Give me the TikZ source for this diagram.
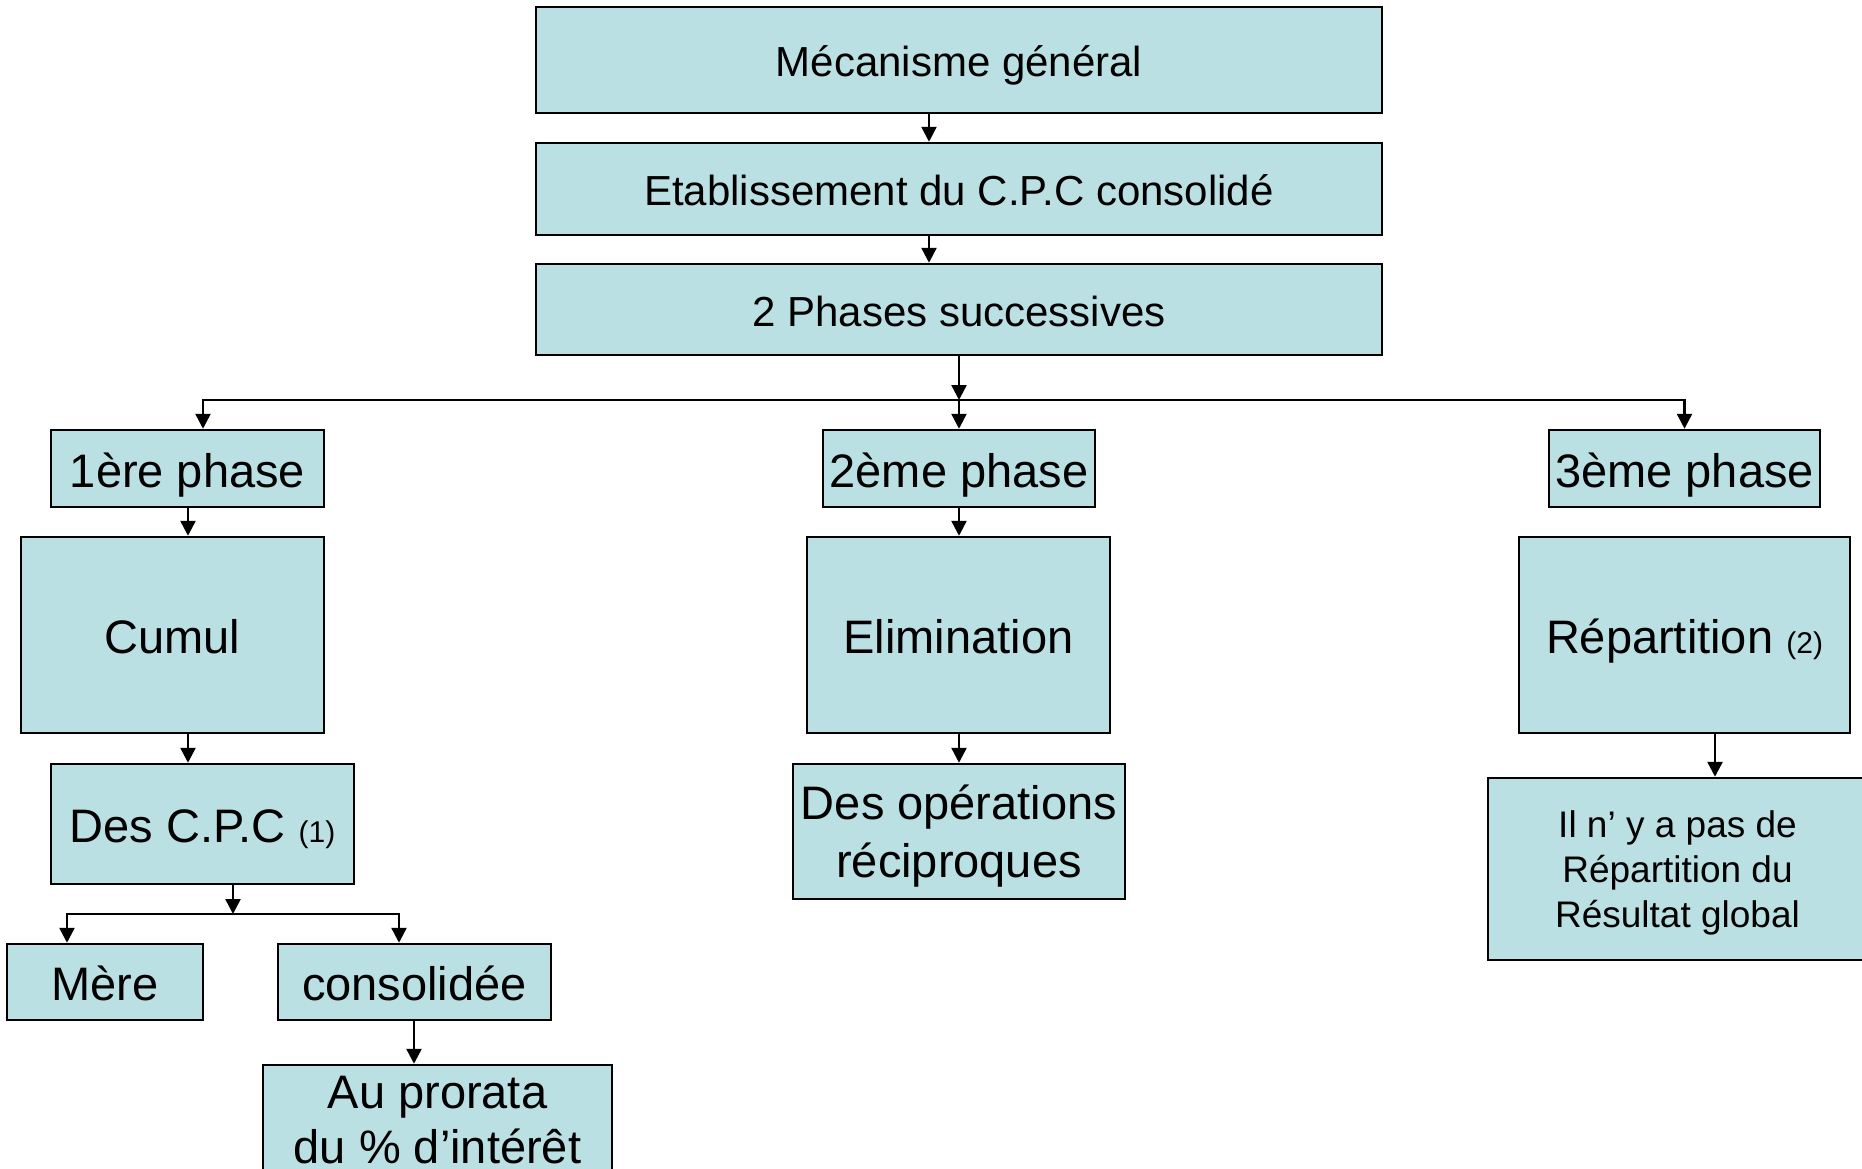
\documentclass[tikz,border=0pt]{standalone}
\usepackage{fontspec}
\setmainfont{Liberation Sans}
\usetikzlibrary{arrows.meta}
\definecolor{boxfill}{HTML}{BBE0E3}
\begin{document}
\begin{tikzpicture}[x=1pt,y=-1pt,
  box/.style={draw=black, line width=2.5pt, fill=boxfill, inner sep=0pt, align=center, font=\fontsize{47}{56}\selectfont},
  onebox/.style={box, text height=47pt, text depth=10pt},
  topbox/.style={box, font=\fontsize{42}{50}\selectfont, minimum width=846pt, text height=42pt, text depth=9pt},
  conn/.style={line width=2.5pt, -{Triangle[width=15pt,length=15pt]}},
  seg/.style={line width=2.5pt}]
\useasboundingbox (0,0) rectangle (1862,1168);
% top chain
\node[topbox, minimum height=106pt] (m1) at (959,60) {Mécanisme général};
\node[topbox, minimum height=92pt] (m2) at (959,189) {Etablissement du C.P.C consolidé};
\node[topbox, minimum height=91pt] (m3) at (959,309.5) {2 Phases successives};
% phases
\node[onebox, minimum width=273pt, minimum height=77pt] (p1) at (187.5,468.5) {1ère phase};
\node[onebox, minimum width=272pt, minimum height=77pt] (p2) at (959,468.5) {2ème phase};
\node[onebox, minimum width=271pt, minimum height=77pt] (p3) at (1684.5,468.5) {3ème phase};
% second level
\node[onebox, minimum width=303pt, minimum height=196pt] (cumul) at (172.5,635) {Cumul};
\node[onebox, minimum width=303pt, minimum height=196pt] (elim) at (958.5,635) {Elimination};
\node[onebox, minimum width=331pt, minimum height=196pt] (repart) at (1684.5,635) {Répartition {\fontsize{30}{36}\selectfont(2)}};
% third level
\node[onebox, minimum width=303pt, minimum height=120pt] (cpc) at (202.5,824) {Des C.P.C {\fontsize{30}{36}\selectfont(1)}};
\node[box, minimum width=332pt, minimum height=135pt, font=\fontsize{47}{58}\selectfont, text depth=-2pt] (desop) at (959,831.5) {Des opérations\\réciproques};
\node[box, minimum width=379pt, minimum height=182pt, font=\fontsize{37}{45}\selectfont, text depth=-2pt] (ilny) at (1677.5,869) {Il n’ y a pas de\\Répartition du\\Résultat global};
% fourth level
\node[onebox, minimum width=196pt, minimum height=76pt] (mere) at (105,982) {Mère};
\node[onebox, minimum width=273pt, minimum height=76pt] (cons) at (414.5,982) {consolidée};
\node[box, minimum width=349pt, minimum height=110pt, font=\fontsize{47}{55}\selectfont] (pror) at (437.5,1120) {Au prorata\\du \% d’intérêt};
% junctions
\coordinate (j1) at (959,400);
\coordinate (j2) at (233,914);
% connectors top
\draw[conn] ([xshift=-30pt]m1.south) -- ([xshift=-30pt]m2.north);
\draw[conn] ([xshift=-30pt]m2.south) -- ([xshift=-30pt]m3.north);
\draw[conn] (m3.south) -- (j1);
\draw[conn] (j1) -- (p2.north);
\draw[conn] (j1) -| ([xshift=15.5pt]p1.north);
\draw[conn] (j1) -| (p3.north);
% first column
\draw[conn] ([xshift=0.5pt]p1.south) -- ([xshift=0.5pt]p1.south |- cumul.north);
\draw[conn] ([xshift=0.5pt]p1.south |- cumul.south) -- ([xshift=0.5pt]p1.south |- cpc.north);
\draw[conn] ([xshift=30.5pt]cpc.south) -- (j2);
\draw[conn] (j2) -| ([xshift=-38pt]mere.north);
\draw[conn] (j2) -| ([xshift=-15.5pt]cons.north);
\draw[conn] ([xshift=-0.5pt]cons.south) -- ([xshift=-0.5pt]cons.south |- pror.north);
% second column
\draw[conn] (p2.south) -- (p2.south |- elim.north);
\draw[conn] (p2.south |- elim.south) -- (p2.south |- desop.north);
% third column
\draw[conn] ([xshift=30.5pt]repart.south) -- ([xshift=30.5pt]repart.south |- ilny.north);
\end{tikzpicture}
\end{document}
